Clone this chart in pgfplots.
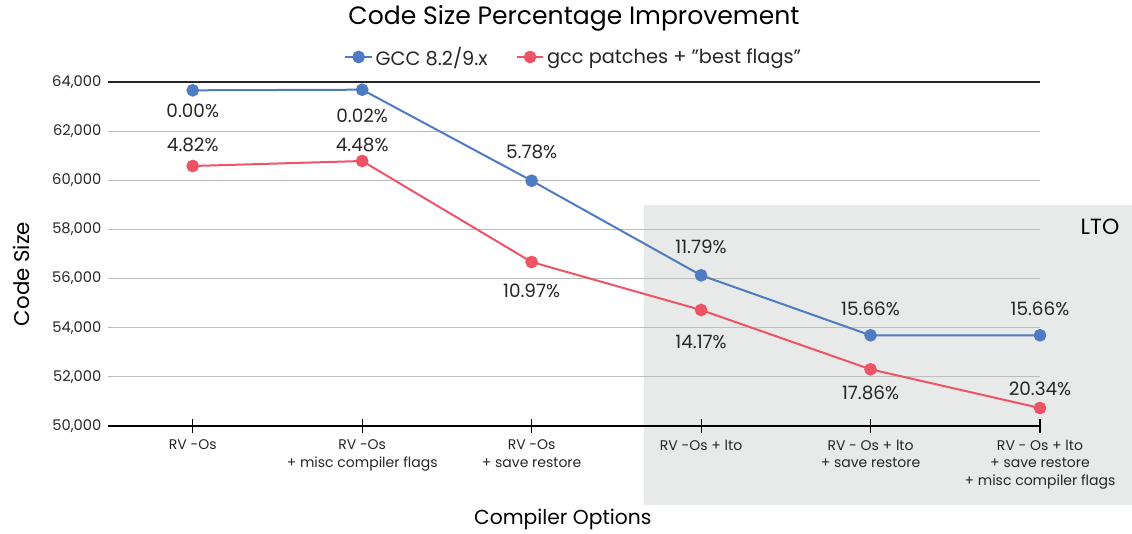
\documentclass[border=0pt]{standalone}
\usepackage{pgfplots}
\pgfplotsset{compat=1.18}
\usepackage{fontspec}
\setmainfont{Poppins}
\definecolor{cblue}{HTML}{4F7BC2}
\definecolor{cred}{HTML}{EE5466}
\definecolor{cshade}{HTML}{E8E9E9}
\definecolor{gridc}{HTML}{BDBDBD}
\definecolor{txt}{HTML}{262626}
\begin{document}
\begin{tikzpicture}
% background panel (LTO region), axis south west is at (0,0)
\fill[cshade] (402pt,-59.25pt) rectangle (768pt,165.75pt);
\begin{axis}[
  at={(0,0)}, anchor=south west,
  scale only axis, width=699pt, height=258pt,
  xmin=-0.5, xmax=5, ymin=50000, ymax=64000,
  clip=false,
  axis x line*=bottom, axis y line*=left,
  y axis line style={draw=none},
  x axis line style={black, line width=0.8pt},
  xtick={0,...,5},
  xticklabels={{RV -Os},{RV -Os\\+ misc compiler flags},{RV -Os\\+ save restore},{RV -Os + lto},{RV - Os + lto\\+ save restore},{RV - Os + lto\\+ save restore\\+ misc compiler flags}},
  xticklabel style={align=center, font=\fontsize{10.5}{13}\selectfont, text=txt, yshift=-2pt},
  ytick={50000,52000,...,64000},
  scaled y ticks=false,
  ytick style={draw=none},
  xtick style={black, line width=0.8pt},
  tick align=center, major tick length=10pt,
  yticklabel style={font=\fontsize{11}{13}\selectfont, text=txt, xshift=3.5pt},
  /pgf/number format/.cd, 1000 sep={,}, assume math mode=true, /pgfplots/.cd,
  ymajorgrids, grid style={gridc, line width=0.9pt},
  every axis title shift=0pt,
  title={Code Size Percentage Improvement},
  title style={at={(axis description cs:0.5,1.186)}, anchor=center, font=\fontsize{18.8}{21}\selectfont, text=black},
  xlabel={Compiler Options},
  xlabel style={at={(axis description cs:0.488,-0.273)}, anchor=center, font=\fontsize{15.2}{17}\selectfont, text=black},
  ylabel={Code Size},
  ylabel style={at={(axis description cs:-0.0923,0.442)}, anchor=center, font=\fontsize{16}{18}\selectfont, text=black},
  legend columns=2,
  legend style={at={(axis description cs:0.5,1.0727)}, anchor=center, draw=none, fill=none,
    font=\fontsize{14.5}{16}\selectfont, text=txt,
    /tikz/every even column/.append style={column sep=19pt}},
  legend image code/.code={
    \draw[#1, mark=none] (0pt,0pt) -- (20pt,0pt);
    \draw[#1] plot coordinates {(10pt,0pt)};
  },
  point meta=explicit symbolic,
  nodes near coords={\pgfplotspointmeta\%},
  visualization depends on={\thisrow{dy}\as\dy},
  every node near coord/.append style={anchor=center, yshift=\dy pt, font=\fontsize{13.8}{15}\selectfont, text=txt},
]
\draw[black!85, line width=0.9pt] (axis cs:-0.5,64000) -- (axis cs:5,64000);
\node[font=\fontsize{16.5}{18}\selectfont, text=black] at (axis cs:5.354,58099) {LTO};

\addplot[cblue, line width=1.5pt, mark=*, mark size=4pt] table[meta=lab] {
x y lab dy
0 63662 0.00 -15.75
1 63687 0.02 -19.5
2 59983 5.78 21.75
3 56133 11.79 21
4 53691 15.66 19.5
5 53691 15.66 19.5
};
\addlegendentry{GCC 8.2/9.x}

\addplot[cred, line width=1.5pt, mark=*, mark size=4pt] table[meta=lab] {
x y lab dy
0 60581 4.82 15.75
1 60785 4.48 12
2 56674 10.97 -21.4
3 54721 14.17 -23.6
4 52307 17.86 -18
5 50732 20.34 14.25
};
\addlegendentry{gcc patches + "best flags"}
\end{axis}
\pgfresetboundingbox
\useasboundingbox (-81pt,-80.25pt) rectangle (768pt,319.5pt);
\end{tikzpicture}
\end{document}
